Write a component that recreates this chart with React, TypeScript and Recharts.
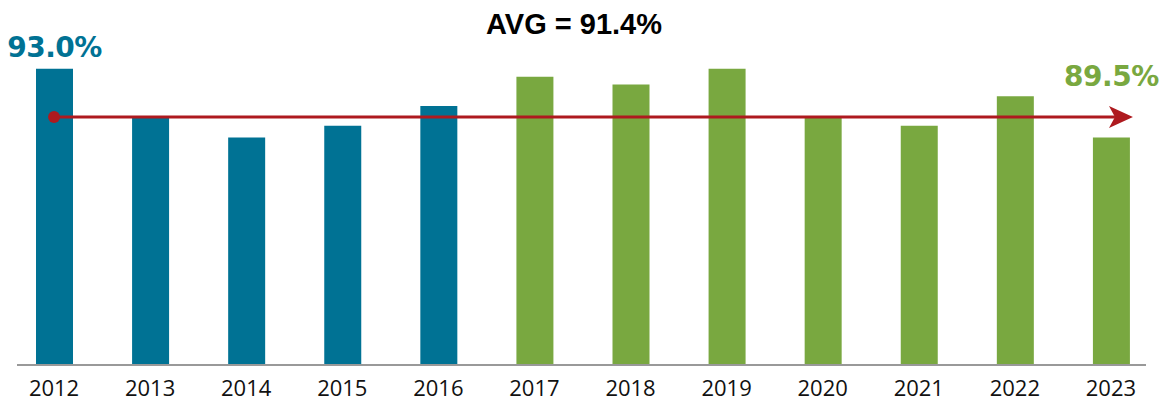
import React from 'react';
import { BarChart, Bar, XAxis, YAxis, Cell, LabelList, ReferenceLine } from 'recharts';

// values
const years = ['2012', '2013', '2014', '2015', '2016', '2017', '2018', '2019', '2020', '2021', '2022', '2023'];
const rates = [93.0, 90.5, 89.5, 90.1, 91.1, 92.6, 92.2, 93.0, 90.5, 90.1, 91.6, 89.5];
const periods = ['early', 'early', 'early', 'early', 'early', 'late', 'late', 'late', 'late', 'late', 'late', 'late'];
const labelledYears = ['2012', '2023'];
const avgText = 'AVG = 91.4%';
const trendLevel = 90.55;

const BLUE = '#007294';
const GREEN = '#79A840';
const RED = '#AE1A1F';

const data = years.map((year, i) => ({ year, rate: rates[i], period: periods[i] }));

const colorOf = (period: string) => (period === 'early' ? BLUE : GREEN);

const ValueLabel = (props: any) => {
  const { x, y, width, index, value } = props;
  const row = data[index];
  if (!row || !labelledYears.includes(row.year)) return null;
  const last = index === data.length - 1;
  return (
    <text
      x={x + width / 2}
      y={last ? y - 51 : y - 12}
      textAnchor="middle"
      fill={colorOf(row.period)}
      fontFamily="DejaVu Sans"
      fontWeight="bold"
      fontSize={28}
      letterSpacing={-0.5}
    >
      {Number(value).toFixed(1)}%
    </text>
  );
};

const TrendArrow = (props: any) => {
  const { x1, y1, x2, y2 } = props;
  return (
    <g>
      <line x1={x1} y1={y1} x2={x2 + 4} y2={y2} stroke={RED} strokeWidth={3} />
      <circle cx={x1} cy={y1} r={6} fill={RED} />
      <polygon
        points={`${x2 - 2},${y2 - 11} ${x2 + 22},${y2} ${x2 - 2},${y2 + 11} ${x2 + 4},${y2}`}
        fill={RED}
      />
    </g>
  );
};

export default function App() {
  return (
    <div style={{ position: 'absolute', left: 0, top: 0, width: 1165, height: 404, background: '#fff' }}>
      <div
        style={{
          position: 'absolute',
          left: 0,
          top: 10,
          width: 1148,
          textAlign: 'center',
          fontFamily: 'Liberation Sans',
          fontWeight: 'bold',
          fontSize: 29,
          lineHeight: '29px',
          color: '#000',
        }}
      >
        {avgText}
      </div>
      <BarChart width={1165} height={404} data={data} margin={{ top: 10, right: 19, bottom: 0, left: 17 }}>
        <XAxis
          dataKey="year"
          height={39}
          padding={{ left: -11, right: -13 }}
          tickLine={false}
          tickSize={0}
          tickMargin={15}
          axisLine={{ stroke: '#999', strokeWidth: 2 }}
          tick={{ fill: '#111', fontFamily: 'Open Sans', fontSize: 22 }}
          interval={0}
        />
        <YAxis hide domain={[77.9, 96]} allowDataOverflow />
        <Bar dataKey="rate" barSize={37} isAnimationActive={false}>
          {data.map((d) => (
            <Cell key={d.year} fill={colorOf(d.period)} />
          ))}
          <LabelList dataKey="rate" content={ValueLabel} />
        </Bar>
        <ReferenceLine
          segment={[
            { x: years[0], y: trendLevel },
            { x: years[years.length - 1], y: trendLevel },
          ]}
          ifOverflow="visible"
          shape={TrendArrow}
        />
      </BarChart>
    </div>
  );
}
